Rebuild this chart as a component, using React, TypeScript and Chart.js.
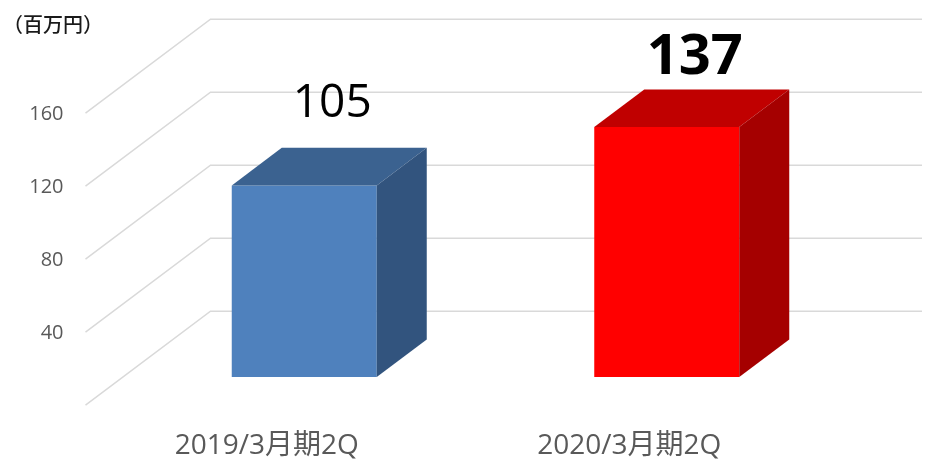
import React, { useEffect, useRef } from "react";
import { Chart, registerables } from "chart.js";

Chart.register(...registerables);

// ---- data ----
const categories = ["2019/3月期2Q", "2020/3月期2Q"];
const values = [105, 137];
const tickValues = [0, 40, 80, 120, 160];
const tickLabels = ["", "40", "80", "120", "160"];
const unitLabel = "（百万円）";

// ---- styles ----
const FRONT_COLORS = ["#4f81bd", "#ff0000"];
const TOP_COLORS = ["#3b6290", "#c00000"];
const SIDE_COLORS = ["#32547e", "#a50000"];
const VALUE_FONTS = ["normal 46px 'Open Sans', 'Noto Sans'", "bold 56px 'Open Sans', 'Noto Sans'"];
const VALUE_LIFT = [31, 15];

const DEPTH_X = 125;
const DEPTH_Y = -94;
const FRONT_T = 0.3; // bar front plane depth fraction
const BAR_T = 0.4; // bar depth fraction
const GRID_RIGHT = 922;

const threeD = {
  id: "threeD",
  beforeDatasetsDraw(chart: any) {
    const ctx = chart.ctx;
    const ys = chart.scales.y;
    const xs = chart.scales.x;
    const ca = chart.chartArea;
    ctx.save();
    // grid: side wall diagonals + back wall lines
    ctx.strokeStyle = "#d9d9d9";
    ctx.lineWidth = 1.5;
    tickValues.forEach((v) => {
      const y = ys.getPixelForValue(v);
      const fx = ca.left - FRONT_T * DEPTH_X;
      const fy = y - FRONT_T * DEPTH_Y;
      const bx = ca.left + (1 - FRONT_T) * DEPTH_X;
      const by = y + (1 - FRONT_T) * DEPTH_Y;
      ctx.beginPath();
      ctx.moveTo(fx, fy);
      ctx.lineTo(bx, by);
      ctx.lineTo(GRID_RIGHT, by);
      ctx.stroke();
    });
    // tick labels
    ctx.fillStyle = "#595959";
    ctx.font = "20px 'Open Sans', 'Noto Sans'";
    ctx.textAlign = "right";
    ctx.textBaseline = "middle";
    tickValues.forEach((v, i) => {
      const y = ys.getPixelForValue(v);
      const fx = ca.left - FRONT_T * DEPTH_X;
      const fy = y - FRONT_T * DEPTH_Y;
      if (tickLabels[i]) ctx.fillText(tickLabels[i], fx - 22, fy + 1);
    });
    // category labels
    ctx.font = "28px 'Open Sans', 'Noto Sans CJK JP'";
    ctx.textAlign = "center";
    categories.forEach((c, i) => {
      const x = xs.getPixelForValue(i) - FRONT_T * DEPTH_X;
      ctx.fillText(c, x, 446);
    });
    // unit label
    ctx.fillStyle = "#1a1a1a";
    ctx.font = "500 20px 'Noto Sans CJK JP'";
    ctx.textAlign = "left";
    ctx.fillText(unitLabel, 3, 24);
    ctx.restore();
  },
  afterDatasetsDraw(chart: any) {
    const ctx = chart.ctx;
    const meta = chart.getDatasetMeta(0);
    const dx = BAR_T * DEPTH_X;
    const dy = BAR_T * DEPTH_Y;
    ctx.save();
    meta.data.forEach((bar: any, i: number) => {
      const p = bar.getProps(["x", "y", "base", "width"], true);
      const L = p.x - p.width / 2;
      const R = p.x + p.width / 2;
      const T = p.y;
      const B = p.base;
      // top face
      ctx.fillStyle = TOP_COLORS[i];
      ctx.beginPath();
      ctx.moveTo(L, T);
      ctx.lineTo(R, T);
      ctx.lineTo(R + dx, T + dy);
      ctx.lineTo(L + dx, T + dy);
      ctx.closePath();
      ctx.fill();
      // side face
      ctx.fillStyle = SIDE_COLORS[i];
      ctx.beginPath();
      ctx.moveTo(R, T);
      ctx.lineTo(R + dx, T + dy);
      ctx.lineTo(R + dx, B + dy);
      ctx.lineTo(R, B);
      ctx.closePath();
      ctx.fill();
      // value label
      ctx.fillStyle = "#000000";
      ctx.font = VALUE_FONTS[i];
      ctx.textAlign = "center";
      ctx.textBaseline = "alphabetic";
      ctx.fillText(String(values[i]), p.x + 28, T + dy - VALUE_LIFT[i]);
    });
    ctx.restore();
  },
};

export default function App() {
  const ref = useRef<HTMLCanvasElement>(null);
  useEffect(() => {
    if (!ref.current) return;
    const chart = new Chart(ref.current, {
      type: "bar",
      data: {
        labels: categories,
        datasets: [
          {
            data: values,
            backgroundColor: FRONT_COLORS,
            borderWidth: 0,
            barPercentage: 1,
            categoryPercentage: 0.4,
          },
        ],
      },
      options: {
        animation: false,
        responsive: false,
        layout: { padding: { left: 123, right: 77, top: 85, bottom: 83 } },
        plugins: { legend: { display: false }, tooltip: { enabled: false } },
        scales: {
          x: { display: false },
          y: { display: false, min: 0, max: 160, ticks: { stepSize: 40 } },
        },
      },
      plugins: [threeD],
    });
    return () => chart.destroy();
  }, []);
  return (
    <div style={{ position: "absolute", left: 0, top: 0, width: 925, height: 460, background: "#fff" }}>
      <canvas ref={ref} width={925} height={460} style={{ display: "block" }} />
    </div>
  );
}
